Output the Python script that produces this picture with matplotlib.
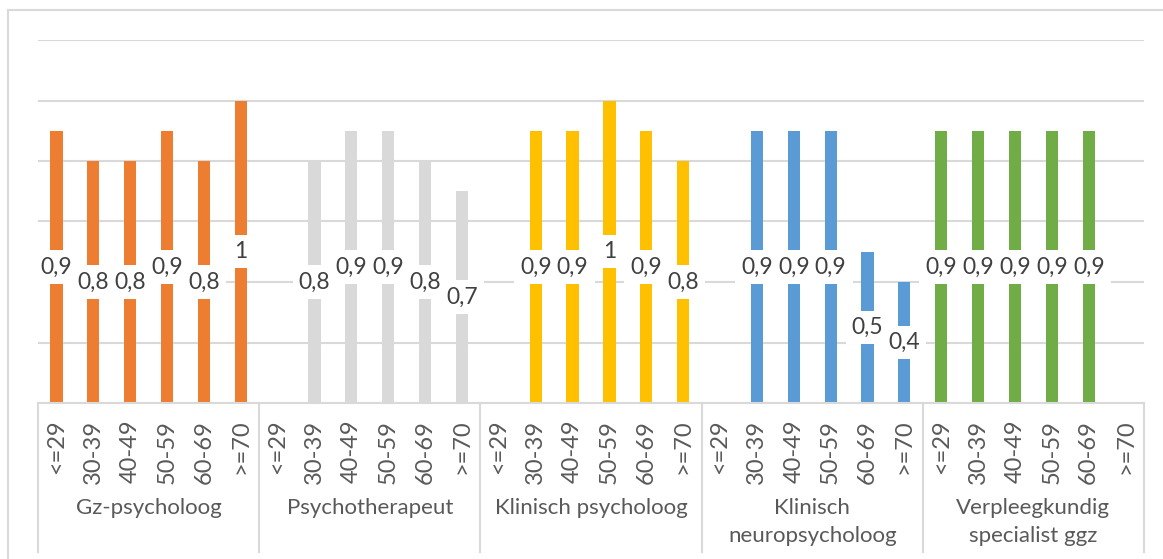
import numpy as np
import matplotlib.pyplot as plt
from matplotlib.lines import Line2D
from matplotlib.transforms import blended_transform_factory

## Data
groups = ["Gz-psycholoog", "Psychotherapeut", "Klinisch psycholoog",
          "Klinisch\nneuropsycholoog", "Verpleegkundig\nspecialist ggz"]
ages = ["<=29", "30-39", "40-49", "50-59", "60-69", ">=70"]
gz = [0.9, 0.8, 0.8, 0.9, 0.8, 1.0]
psychotherapeut = [None, 0.8, 0.9, 0.9, 0.8, 0.7]
klinisch = [None, 0.9, 0.9, 1.0, 0.9, 0.8]
neuro = [None, 0.9, 0.9, 0.9, 0.5, 0.4]
vs_ggz = [0.9, 0.9, 0.9, 0.9, 0.9, None]
series = [gz, psychotherapeut, klinisch, neuro, vs_ggz]
colors = ["#ED7D31", "#D9D9D9", "#FFC000", "#5B9BD5", "#70AD47"]

plt.rcParams['font.family'] = ['Lato', 'DejaVu Sans']
W, H = 1163, 559
fig = plt.figure(figsize=(W/100, H/100), dpi=100)
ax = fig.add_axes([38/W, 1 - 403/H, (1144-38)/W, (403-40)/H])

nA = len(ages)
for g, (vals, c) in enumerate(zip(series, colors)):
    for a, v in enumerate(vals):
        if v is None:
            continue
        x = g*nA + a
        ax.bar(x, v, width=0.33, color=c, zorder=2)
        ax.text(x, v/2, ("%g" % v).replace(".", ","), ha="center", va="center",
                fontsize=16.5, color="#404040", zorder=3,
                bbox=dict(boxstyle="square,pad=0.27", fc="white", ec="none"))

ax.set_xlim(-0.5, len(groups)*nA - 0.5)
ax.set_ylim(0, 1.2)
ax.set_yticks(np.arange(0.2, 1.21, 0.2))
ax.yaxis.grid(True, color="#D9D9D9", lw=1.5, zorder=0)
ax.tick_params(axis="y", length=0, labelleft=False)
for s in ["top", "right", "left"]:
    ax.spines[s].set_visible(False)
ax.spines["bottom"].set_color("#D9D9D9")
ax.spines["bottom"].set_linewidth(1.5)

ax.set_xticks(range(len(groups)*nA))
ax.set_xticklabels(ages*len(groups), rotation=90, fontsize=17, color="#595959")
ax.tick_params(axis="x", length=0, pad=12)

trans = blended_transform_factory(ax.transData, ax.transAxes)
for g, name in enumerate(groups):
    ax.text(g*nA + (nA-1)/2, -0.263, name, transform=trans, ha="center", va="top",
            fontsize=16, color="#595959", linespacing=1.5)
for g in range(len(groups)+1):
    ax.plot([g*nA - 0.5]*2, [0, -0.41], transform=trans, color="#D9D9D9",
            lw=1.5, clip_on=False)

# chart border
fig.add_artist(Line2D([8/W, 8/W], [0, 1 - 10/H], color="#D9D9D9", lw=1.5))
fig.add_artist(Line2D([8/W, 1], [1 - 10/H]*2, color="#D9D9D9", lw=1.5))

fig.savefig("out.png", dpi=100)
